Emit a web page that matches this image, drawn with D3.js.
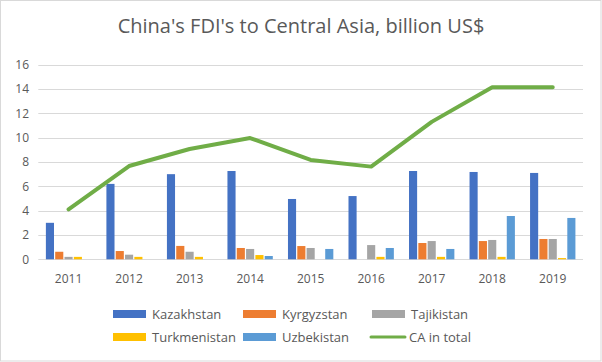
<!DOCTYPE html>
<html><head><meta charset="utf-8">
<script src="https://cdn.jsdelivr.net/npm/d3@7"></script>
<style>body{margin:0;background:#fff}svg{display:block}text{font-family:"Open Sans",sans-serif}</style>
</head><body><svg id="c" width="602" height="362"></svg>
<script>
const years = ["2011","2012","2013","2014","2015","2016","2017","2018","2019"];
const seriesNames = ["Kazakhstan","Kyrgyzstan","Tajikistan","Turkmenistan","Uzbekistan"];
const kazakhstan   = [3.0, 6.2, 7.0, 7.26, 4.96, 5.2, 7.26, 7.18, 7.1];
const kyrgyzstan   = [0.62, 0.68, 1.1, 0.93, 1.09, 0, 1.34, 1.5, 1.67];
const tajikistan   = [0.2, 0.38, 0.62, 0.85, 0.93, 1.17, 1.5, 1.59, 1.67];
const turkmenistan = [0.2, 0.2, 0.2, 0.35, 0, 0.2, 0.2, 0.2, 0.1];
const uzbekistan   = [0, 0, 0, 0.27, 0.85, 0.93, 0.85, 3.56, 3.4];
const caTotal      = [4.1, 7.67, 9.07, 9.97, 8.17, 7.62, 11.3, 14.14, 14.14];
const yTicks = [0, 2, 4, 6, 8, 10, 12, 14, 16];
const colors = ["#4472C4","#ED7D31","#A5A5A5","#FFC000","#5B9BD5"];
const lineColor = "#70AD47";
const lineName = "CA in total";

const seriesValues = [kazakhstan, kyrgyzstan, tajikistan, turkmenistan, uzbekistan];
const svg = d3.select("#c");
svg.append("rect").attr("x",0.5).attr("y",0.5).attr("width",600.5).attr("height",360.5)
  .attr("fill","#fff").attr("stroke","#d9d9d9");

svg.append("text").attr("x",301).attr("y",33).attr("text-anchor","middle")
  .attr("font-size",20).attr("fill","#595959").text("China's FDI's to Central Asia, billion US$");

const x = d3.scaleBand().domain(years).range([38.3, 583]);
const y = d3.scaleLinear().domain([0,16]).range([259.3, 64.7]);
const inner = d3.scaleBand().domain(seriesNames).range([0, x.bandwidth()]).paddingOuter(0.75).paddingInner(0);

// gridlines
svg.append("g").selectAll("line").data(yTicks).join("line")
  .attr("x1",38.3).attr("x2",583).attr("y1",d=>Math.round(y(d))+0.5).attr("y2",d=>Math.round(y(d))+0.5)
  .attr("stroke","#d9d9d9").attr("stroke-width",1);

// y axis labels
const yAxis = d3.axisLeft(y).tickValues(yTicks).tickSize(0).tickPadding(0);
svg.append("g").attr("transform","translate(29,0)").call(yAxis)
  .call(g=>g.select(".domain").remove())
  .call(g=>g.selectAll("text").attr("font-size",12).attr("fill","#595959").attr("font-family","Open Sans"));

// x axis labels
const xAxis = d3.axisBottom(x).tickSize(0).tickPadding(0);
svg.append("g").attr("transform","translate(0,274)").call(xAxis)
  .call(g=>g.select(".domain").remove())
  .call(g=>g.selectAll("text").attr("font-size",12).attr("fill","#595959").attr("font-family","Open Sans"));

// bars
seriesNames.forEach((name,i)=>{
  svg.append("g").selectAll("rect").data(years.map((yr,j)=>({yr,v:seriesValues[i][j]})).filter(d=>d.v>0))
    .join("rect")
    .attr("x",d=>x(d.yr)+inner(name)+0.6)
    .attr("width",inner.bandwidth()-1.2)
    .attr("y",d=>y(d.v))
    .attr("height",d=>y(0)-y(d.v))
    .attr("fill",colors[i]);
});

// line
const line = d3.line().x((d,j)=>x(years[j])+x.bandwidth()/2).y(d=>y(d));
svg.append("path").datum(caTotal).attr("d",line).attr("fill","none")
  .attr("stroke",lineColor).attr("stroke-width",4).attr("stroke-linejoin","round").attr("stroke-linecap","round");

// legend
const legendItems = [
  {name:"Kazakhstan",color:colors[0],type:"bar",x:113,y:314},
  {name:"Kyrgyzstan",color:colors[1],type:"bar",x:243,y:314},
  {name:"Tajikistan",color:colors[2],type:"bar",x:372,y:314},
  {name:"Turkmenistan",color:colors[3],type:"bar",x:113,y:337},
  {name:"Uzbekistan",color:colors[4],type:"bar",x:243,y:337},
  {name:lineName,color:lineColor,type:"line",x:370,y:337}
];
const lg = svg.append("g").selectAll("g").data(legendItems).join("g");
lg.each(function(d){
  const g = d3.select(this);
  if(d.type==="bar") g.append("rect").attr("x",d.x).attr("y",d.y-4).attr("width",33).attr("height",8).attr("fill",d.color);
  else g.append("line").attr("x1",d.x+1).attr("x2",d.x+35).attr("y1",d.y).attr("y2",d.y).attr("stroke",d.color).attr("stroke-width",3).attr("stroke-linecap","round");
  g.append("text").attr("x",d.x+39).attr("y",d.y).attr("dy","0.36em").attr("font-size",13).attr("fill","#595959").text(d.name);
});
</script></body></html>
